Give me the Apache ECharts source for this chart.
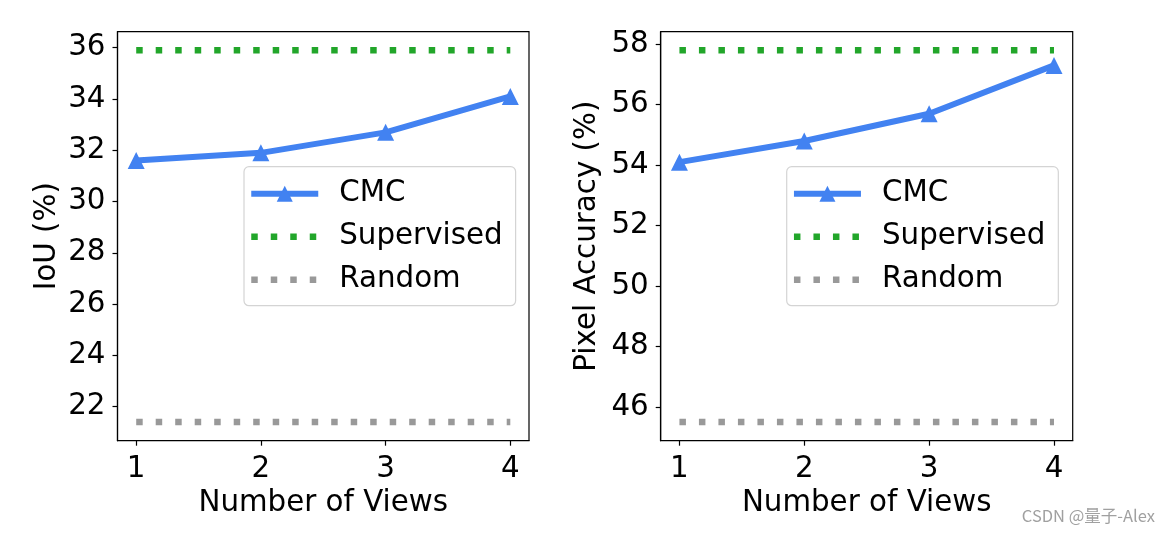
<!DOCTYPE html>
<html><head><meta charset="utf-8">
<script src="https://cdn.jsdelivr.net/npm/echarts@6/dist/echarts.min.js"></script>
<style>html,body{margin:0;padding:0;background:#fff}#c{width:1170px;height:533px}</style>
</head><body><div id="c"></div><script>
const views = [1, 2, 3, 4];
const iouCMC = [31.6, 31.9, 32.7, 34.1];
const iouSupervised = [35.9, 35.9, 35.9, 35.9];
const iouRandom = [21.4, 21.4, 21.4, 21.4];
const paCMC = [54.1, 54.8, 55.7, 57.3];
const paSupervised = [57.8, 57.8, 57.8, 57.8];
const paRandom = [45.5, 45.5, 45.5, 45.5];
const iouTicks = [22, 24, 26, 28, 30, 32, 34, 36];
const paTicks = [46, 48, 50, 52, 54, 56, 58];
const xTicks = [1, 2, 3, 4];
const seriesNames = ['CMC', 'Supervised', 'Random'];

const FONT = '"DejaVu Sans", sans-serif';
const FS = 29.33;
const BLUE = '#4282f1', GREEN = '#22a62a', GRAY = '#999999';
const DOT = { width: 6.5, type: [6.5, 13], cap: 'butt' };

function lim(arrs) {
  const all = [].concat(...arrs);
  const lo = Math.min(...all), hi = Math.max(...all), m = (hi - lo) * 0.05;
  return [lo - m, hi + m];
}
const xl = lim([views]);
const yl0 = lim([iouCMC, iouSupervised, iouRandom]);
const yl1 = lim([paCMC, paSupervised, paRandom]);

function xAxis(gi) {
  return {
    type: 'value', gridIndex: gi, min: xl[0], max: xl[1],
    name: 'Number of Views', nameLocation: 'middle', nameGap: 47,
    nameTextStyle: { fontFamily: FONT, fontSize: FS, color: '#000' },
    axisLine: { show: true, onZero: false, lineStyle: { color: '#000', width: 1.2 } },
    axisTick: { show: true, length: 5, customValues: xTicks, lineStyle: { color: '#000', width: 1.2 } },
    axisLabel: { customValues: xTicks, margin: 14, fontFamily: FONT, fontSize: FS, color: '#000' },
    splitLine: { show: false }
  };
}
function yAxis(gi, l, ticks, name, gap) {
  return {
    type: 'value', gridIndex: gi, min: l[0], max: l[1],
    name: name, nameLocation: 'middle', nameGap: gap,
    nameTextStyle: { fontFamily: FONT, fontSize: FS, color: '#000' },
    axisLine: { show: true, onZero: false, lineStyle: { color: '#000', width: 1.2 } },
    axisTick: { show: true, length: 5, customValues: ticks, lineStyle: { color: '#000', width: 1.2 } },
    axisLabel: { customValues: ticks, margin: 12, fontFamily: FONT, fontSize: FS, color: '#000' },
    splitLine: { show: false }
  };
}
function pts(ys) { return views.map((v, i) => [v, ys[i]]); }
function cmc(ys, i) {
  return { name: seriesNames[0], type: 'line', xAxisIndex: i, yAxisIndex: i, data: pts(ys),
    symbol: 'triangle', symbolSize: 17, itemStyle: { color: BLUE },
    lineStyle: { color: BLUE, width: 6 }, z: 3 };
}
function dotted(name, ys, i, color) {
  return { name: name, type: 'line', xAxisIndex: i, yAxisIndex: i, data: pts(ys),
    symbol: 'none', itemStyle: { color: color },
    lineStyle: Object.assign({ color: color }, DOT), z: 2 };
}
function legend(left) {
  return {
    left: left, top: 166.7, orient: 'vertical', align: 'left',
    itemWidth: 67, itemHeight: 20, itemGap: 14,
    padding: [12.5, 13, 11.5, 4],
    backgroundColor: 'rgba(255,255,255,0.8)', borderColor: '#d4d4d4', borderWidth: 1.2, borderRadius: 5,
    textStyle: { fontFamily: FONT, fontSize: FS, color: '#000', lineHeight: 28, padding: [0, 0, 0, 16] },
    data: [
      { name: seriesNames[0], lineStyle: { color: BLUE, width: 6 } },
      { name: seriesNames[1], itemStyle: { opacity: 0 }, lineStyle: Object.assign({ color: GREEN }, DOT) },
      { name: seriesNames[2], itemStyle: { opacity: 0 }, lineStyle: Object.assign({ color: GRAY }, DOT) }
    ],
    selectedMode: false
  };
}

const chart = echarts.init(document.getElementById('c'), null, { renderer: 'canvas' });
chart.setOption({
  animation: false,
  backgroundColor: '#fff',
  grid: [
    { left: 117.5, top: 31.7, width: 411.5, height: 409, show: true, borderColor: '#000', borderWidth: 1.2, containLabel: false },
    { left: 660.7, top: 31.7, width: 412, height: 409, show: true, borderColor: '#000', borderWidth: 1.2, containLabel: false }
  ],
  xAxis: [xAxis(0), xAxis(1)],
  yAxis: [yAxis(0, yl0, iouTicks, 'IoU (%)', 56), yAxis(1, yl1, paTicks, 'Pixel Accuracy (%)', 59)],
  legend: [legend(244), legend(786.7)],
  series: [
    cmc(iouCMC, 0), dotted(seriesNames[1], iouSupervised, 0, GREEN), dotted(seriesNames[2], iouRandom, 0, GRAY),
    cmc(paCMC, 1), dotted(seriesNames[1], paSupervised, 1, GREEN), dotted(seriesNames[2], paRandom, 1, GRAY)
  ],
  graphic: [{
    type: 'text', right: 15, top: 507,
    style: { text: 'CSDN @量子-Alex', fill: '#a0a0a0', font: '16.5px "Noto Sans CJK SC", sans-serif' }
  }]
});
</script></body></html>
